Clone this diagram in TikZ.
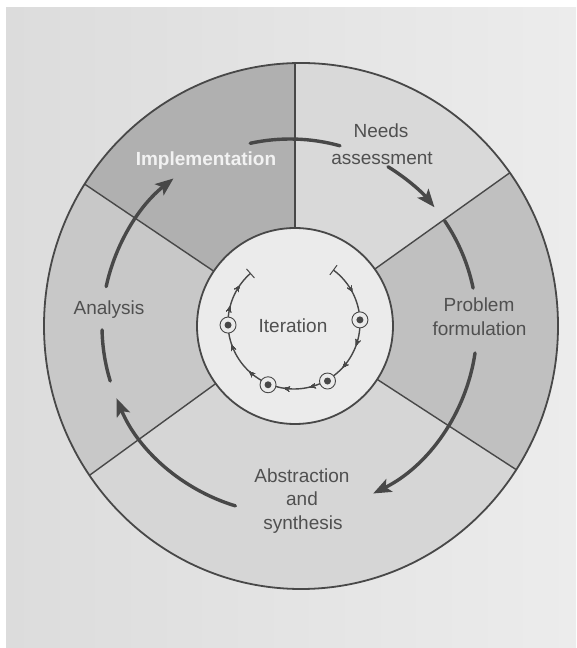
\documentclass[tikz,border=0pt]{standalone}
\usepackage{fontspec}
\setmainfont{Liberation Sans}
\usetikzlibrary{arrows.meta,calc,decorations.markings}
\definecolor{bgA}{HTML}{DCDCDC}
\definecolor{bgB}{HTML}{ECECEC}
\definecolor{implc}{HTML}{B0B0B0}
\definecolor{needsc}{HTML}{D9D9D9}
\definecolor{probc}{HTML}{C0C0C0}
\definecolor{abstc}{HTML}{D6D6D6}
\definecolor{analc}{HTML}{C8C8C8}
\definecolor{innerc}{HTML}{EBEBEB}
\definecolor{ink}{HTML}{484848}
\definecolor{txt}{HTML}{505050}
\definecolor{headfill}{HTML}{808080}
\newcommand\wedgefill[3]{\fill[#1] (C) -- ($(C)+(#2:600)$) -- ($(C)+({(#2+#3)/2}:600)$) -- ($(C)+(#3:600)$) -- cycle;}
\begin{document}
\begin{tikzpicture}[x=1pt,y=1pt,
  lbl/.style={font=\fontsize{19}{23}\selectfont, text=txt, anchor=base, inner sep=0pt},
  bigloop/.style={line width=3.4pt, draw=ink, line cap=round},
  bighead/.style={-{Stealth[length=18pt,width=14pt,inset=4pt,fill=headfill]}},
  divider/.style={line width=1.4pt, draw=ink},
  itermark/.style={circle, draw=ink, line width=0.9pt, fill=innerc, minimum size=16pt, inner sep=0pt},
  itdot/.style={circle, fill=ink, minimum size=7pt, inner sep=0pt},
  sh/.style={decoration={markings, mark=at position #1 with {\arrow{Stealth[length=6pt,width=5pt]}}}, postaction={decorate}},
]
\useasboundingbox (0,0) rectangle (576,648);
\fill[white] (0,0) rectangle (576,648);
\shade[left color=bgA, right color=bgB] (6,0) rectangle (576,640);

\coordinate (C) at (295,322);
\coordinate (E) at (301,322);
\coordinate (L) at (290,322);
\coordinate (Lc) at (294,325);

% sectors
\begin{scope}
  \clip (E) ellipse [x radius=257, y radius=263];
  \wedgefill{implc}{90}{146}
  \wedgefill{analc}{146}{216}
  \wedgefill{abstc}{216}{327}
  \wedgefill{probc}{-33}{35.5}
  \wedgefill{needsc}{35.5}{90}
  \fill[innerc] (C) circle[radius=98];
  \foreach \a in {90,35.5,-33,216,146}
    \draw[divider] ($(C)+(\a:98)$) -- ($(C)+(\a:600)$);
\end{scope}
\draw[ink, line width=1.8pt] (E) ellipse [x radius=257, y radius=263];
\draw[ink, line width=1.8pt] (C) circle[radius=98];

% outer process loop
\draw[bigloop] ($(L)+(102.3:187)$) arc[start angle=102.3, end angle=74.5, radius=187];
\draw[bigloop,bighead] ($(L)+(58.4:187)$) arc[start angle=58.4, end angle=39.4, radius=187];
\draw[bigloop] ($(L)+(34.2:187)$) arc[start angle=34.2, end angle=11.7, radius=187];
\draw[bigloop,bighead] ($(L)+(-8.3:187)$) arc[start angle=-8.3, end angle=-63.6, radius=187];
\draw[bigloop,bighead] ($(L)+(253.1:188)$) arc[start angle=253.1, end angle=202.6, radius=188];
\draw[bigloop] ($(L)+(197:188)$) arc[start angle=197, end angle=181.2, radius=188];
\draw[bigloop,bighead] ($(L)+(167.9:188)$) arc[start angle=167.9, end angle=128.3, radius=188];

% iteration loop
\draw[ink, line width=1.4pt, sh=0.09, sh=0.26, sh=0.34, sh=0.46, sh=0.54, sh=0.66, sh=0.76, sh=0.88, sh=0.95]
  ($(Lc)+(53.3:66)$) arc[start angle=53.3, end angle=-228.7, radius=66];
\draw[ink, line width=1pt] ($(Lc)+(53.3:60)$) -- ($(Lc)+(53.3:72)$);
\draw[ink, line width=1pt] ($(Lc)+(131.3:60)$) -- ($(Lc)+(131.3:72)$);
\node[itermark] (m1) at ($(Lc)+(2.7:66)$) {};
\node[itermark] (m2) at ($(Lc)+(-60:67)$) {};
\node[itermark] (m3) at ($(Lc)+(-112.8:67)$) {};
\node[itermark] (m4) at ($(Lc)+(181.8:66)$) {};
\foreach \m in {m1,m2,m3,m4} \node[itdot] at (\m) {};

% labels
\node[lbl, font=\bfseries\fontsize{19}{23}\selectfont, text=white!95!black] (impl) at (206,482) {Implementation};
\node[lbl] (needs1) at (381,510) {Needs};
\node[lbl] (needs2) at (382,483) {assessment};
\node[lbl] (prob1) at (479,336) {Problem};
\node[lbl] (prob2) at (479.5,312.5) {formulation};
\node[lbl] (anal) at (109,333) {Analysis};
\node[lbl] (iter) at (293,315) {Iteration};
\node[lbl] (abs1) at (302,165) {Abstraction};
\node[lbl] (abs2) at (302,142) {and};
\node[lbl] (abs3) at (303,118) {synthesis};
\end{tikzpicture}
\end{document}
